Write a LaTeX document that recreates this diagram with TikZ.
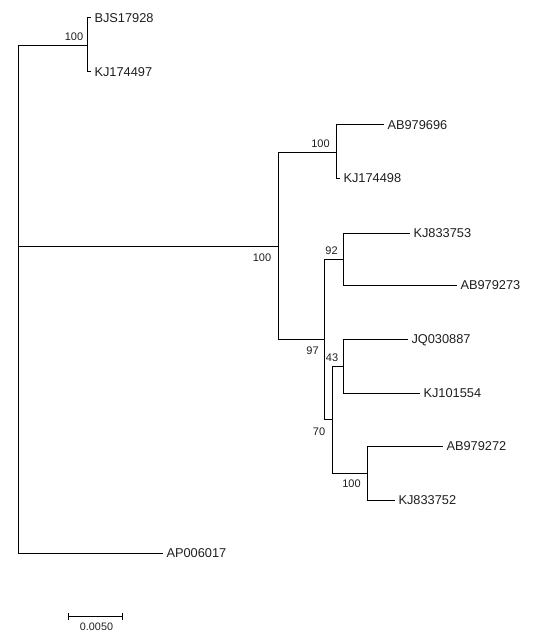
\documentclass[tikz,border=0pt]{standalone}
\usepackage{fontspec}
\setmainfont{Liberation Sans}
\usetikzlibrary{arrows.meta}
\definecolor{ink}{HTML}{1E1E1E}
\newcommand{\taxon}[4]{\node[leaf] (#1) at (#2,#3) {#4};}
\newcommand{\boot}[4]{\node[bs] (#1) at (#2,#3) {#4};}

\begin{document}
\begin{tikzpicture}[x=1pt,y=-1pt,line width=1pt,
  leaf/.style={anchor=west,inner xsep=3pt,inner ysep=0pt,text height=9.2pt,text depth=0pt,font=\fontsize{12.8}{14}\selectfont,text=ink},
  bs/.style={inner sep=0pt,text height=7.9pt,text depth=0pt,font=\fontsize{11}{12}\selectfont,text=ink}]
\useasboundingbox (0,0) rectangle (559,639);
% internal nodes
\coordinate (root) at (18,246);\coordinate (cA) at (87,46);\coordinate (cB) at (278,246);
\coordinate (cC) at (336,153);\coordinate (cD) at (324,339);\coordinate (c92) at (343,259);
\coordinate (c70) at (332,419);\coordinate (c43) at (343,366);\coordinate (c100) at (367,473);
% leaves
\taxon{bjs}{91}{18}{BJS17928}\taxon{kj97}{91}{72}{KJ174497}
\taxon{ab96}{384}{125}{AB979696}\taxon{kj98}{340}{178}{KJ174498}
\taxon{kj53}{410}{233}{KJ833753}\taxon{ab73}{457}{285}{AB979273}
\taxon{jq87}{408}{339}{JQ030887}\taxon{kj54}{420}{393}{KJ101554}
\taxon{ab72}{443}{446}{AB979272}\taxon{kj52}{395}{500}{KJ833752}
\taxon{ap17}{163}{553}{AP006017}
% branches
\draw (root) |- (cA);\draw (root) |- (cB);\draw (root) |- (ap17.west);
\draw (cA) |- (bjs.west);\draw (cA) |- (kj97.west);
\draw (cB) |- (cC);\draw (cB) |- (cD);
\draw (cC) |- (ab96.west);\draw (cC) |- (kj98.west);
\draw (cD) |- (c92);\draw (cD) |- (c70);
\draw (c92) |- (kj53.west);\draw (c92) |- (ab73.west);
\draw (c70) |- (c43);\draw (c70) |- (c100);
\draw (c43) |- (jq87.west);\draw (c43) |- (kj54.west);
\draw (c100) |- (ab72.west);\draw (c100) |- (kj52.west);
% bootstrap values
\boot{b1}{74}{37}{100}\boot{b2}{320.5}{143.5}{100}\boot{b3}{262}{257.5}{100}
\boot{b4}{331.5}{251}{92}\boot{b5}{312.5}{351}{97}\boot{b6}{332}{357.5}{43}
\boot{b7}{319}{431.5}{70}\boot{b8}{351.5}{484}{100}
% scale bar
\coordinate (sL) at (68,616);\coordinate (sR) at (123,616);
\draw[{Bar[width=7pt]}-{Bar[width=7pt]}] (sL) -- (sR);
\node[bs,font=\fontsize{10.8}{12}\selectfont] (sc) at (96.5,627) {0.0050};
\end{tikzpicture}
\end{document}
